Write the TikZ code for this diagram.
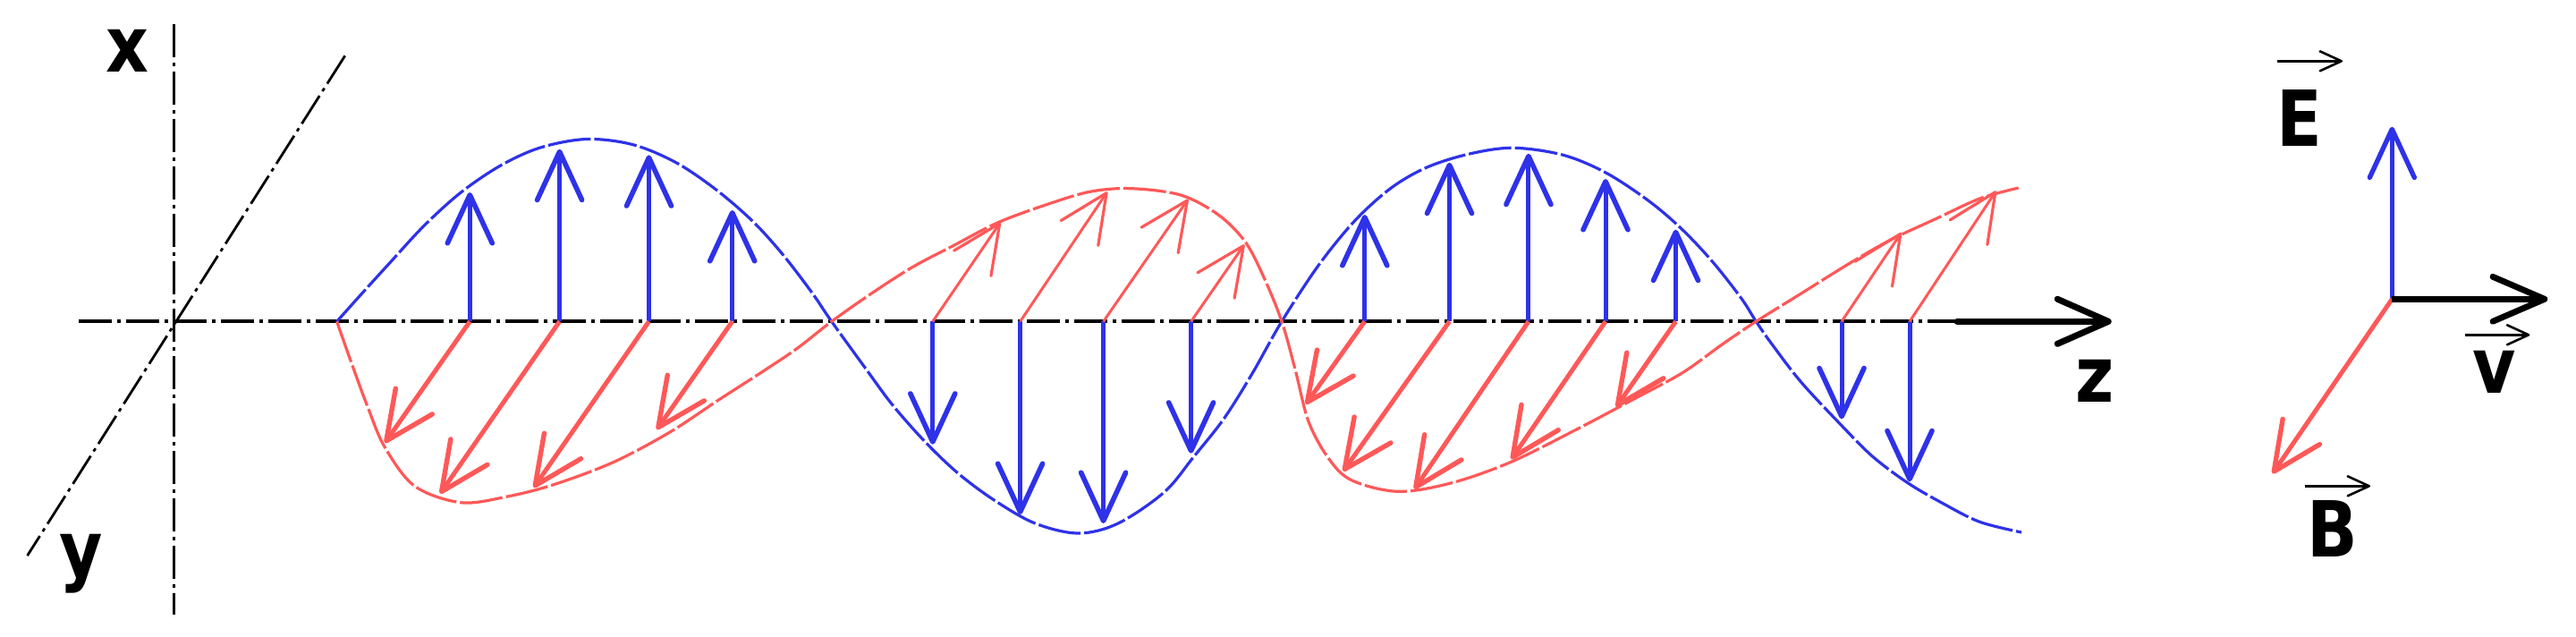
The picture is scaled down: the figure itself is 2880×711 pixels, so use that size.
\documentclass[tikz,border=0pt]{standalone}
\usepackage{fontspec}
\newfontfamily\labfont{DejaVu Sans}
\usetikzlibrary{arrows.meta,calc}
\definecolor{eblue}{RGB}{46,50,232}
\definecolor{bred}{RGB}{255,88,88}
\newcommand\lbltext[1]{\scalebox{0.86}[1]{#1}}
\tikzset{
  lab/.style={inner sep=0pt, outer sep=0pt, font=\labfont\bfseries\fontsize{21.6pt}{21.6pt}\selectfont},
  dashdot/.style={black, line width=0.7pt, dash pattern=on 9.25pt off 1.5pt on 1pt off 1.5pt},
  ecurve/.style={eblue, line width=0.8pt, dash pattern=on 12pt off 1pt},
  bcurve/.style={bred, line width=0.8pt, dash pattern=on 12pt off 1pt},
  bigtip/.style={-{Straight Barb[length=13.5pt,width=12.5pt,line width=#1,round]}},
  earrow/.style={eblue, line width=1.25pt, bigtip=1.4pt},
  barrow/.style={bred, line width=1.25pt, bigtip=1.35pt},
  bthin/.style={bred, line width=0.75pt, bigtip=0.8pt},
  karrow/.style={black, line width=1.7pt, line cap=round, -{Straight Barb[length=14.25pt,width=12.5pt,line width=1.75pt,round]}},
  vecover/.style={black, line width=0.65pt, -{Straight Barb[length=6pt,width=5.5pt,line width=0.65pt,round]}}
}
\begin{document}
\begin{tikzpicture}[x=0.25pt,y=-0.25pt]
\useasboundingbox (0,0) rectangle (2880,711);
% axes
\coordinate (vtop) at (194.3,27);
\coordinate (vbot) at (194.3,687);
\coordinate (htl) at (88.3,359.3);
\coordinate (hte) at (2188,359.3);
\coordinate (ztip) at (2360.7,359.3);
\coordinate (dtop) at (385.7,62.3);
\coordinate (dbot) at (30.6,621);
\draw[dashdot] (vtop) -- (vbot);
\draw[dashdot] (dtop) -- (dbot);
\draw[dashdot, line width=1pt] (htl) -- (hte);
\draw[karrow] (hte) -- (ztip);
% curves
\draw[ecurve] plot[smooth, tension=0.55] coordinates {
(376.6,359.3) (404.4,328.3) (437.7,291.7) (474.7,251.7) (515.4,215) (559.7,185) (604.1,165) (655.9,155.5) (707.7,161.7) (755.8,181.7) (800.2,211.7) (840.9,246.7) (874.2,283.3) (907.5,326.7) (929.7,359.3)
(968.8,413.3) (998.4,453.3) (1035.4,495) (1072.3,530) (1113,560) (1157.4,585) (1205.5,596) (1250,585) (1301.7,550) (1335,510) (1368.3,468) (1400,417.5) (1433,359.3)
(1474,296.7) (1514.7,246.7) (1555.4,210) (1596,186.7) (1644.1,171.7) (1692.2,165.3) (1747.7,173.3) (1795.8,193.3) (1843.9,225) (1880.9,256.7) (1915,293) (1946.7,333.3) (1963.3,359.3)
(1980,383.3) (2013.3,426.7) (2056.7,473.3) (2093.3,510) (2133.3,540) (2173.3,563.3) (2213.3,583.3) (2260,595)};
\draw[bcurve] plot[smooth, tension=0.55] coordinates {
(376.6,359.3) (393.3,406.7) (411.8,456.7) (430.3,500) (463.6,543.3) (515.4,561.7) (567.1,555) (618.9,541.7) (685.5,516.7) (748.4,483.3) (803.9,446.7) (855.7,413.3) (892.7,388.3) (929.7,359.3)
(976.2,326.7) (1020.6,298.3) (1065,275) (1116.7,248.3) (1175.9,226.7) (1220,214) (1264.7,210.7) (1320,218) (1362,240) (1392,270) (1413,310) (1433,359.3)
(1448.1,413.3) (1462.9,471) (1485.1,512) (1511,536.7) (1562.8,549.3) (1621.9,540) (1688.5,516.7) (1762.5,480) (1825.4,446.7) (1880.9,416.7) (1925.3,385) (1963.3,359.3)
(2013.3,328.3) (2066.7,295) (2113.3,268.3) (2163.3,245) (2213.3,222) (2256.7,210)};
% E field arrows
\foreach \i/\z/\t in {1/525.3/215, 2/625.6/166.7, 3/725.5/173.3, 4/818.7/235,
  5/1042.8/496.7, 6/1140.6/575, 7/1233.6/585, 8/1331.6/506.7,
  9/1525.8/240, 10/1620.5/181.7, 11/1708.9/171.7, 12/1795/200, 13/1873.5/256.7,
  14/2059/468.3, 15/2135/538.3} {
  \coordinate (eb\i) at (\z,359.3);
  \coordinate (et\i) at (\z,\t);
  \draw[earrow] (eb\i) -- (et\i);
}
% B field arrows (down-left, thick)
\foreach \i/\z/\tx/\ty in {1/525.3/430.3/495, 2/625.6/492.1/551.7, 3/725.5/596.7/545, 4/818.7/734.3/480,
  9/1525.8/1459.9/451.7, 10/1620.5/1501.7/526.7, 11/1708.9/1581.3/546.7, 12/1795/1689.6/513.3, 13/1873.5/1806.9/455} {
  \coordinate (bb\i) at (\z,359.3);
  \coordinate (bt\i) at (\tx,\ty);
  \draw[barrow] (bb\i) -- (bt\i);
}
% B field arrows (up-right, thin)
\foreach \i/\z/\tx/\ty in {5/1042.8/1118.6/248.3, 6/1140.6/1238/214.3, 7/1233.6/1328.3/222.7, 8/1331.6/1391.2/273.3,
  14/2059/2125.7/260, 15/2135/2231.7/213.3} {
  \coordinate (bb\i) at (\z,359.3);
  \coordinate (bt\i) at (\tx,\ty);
  \draw[bthin] (bb\i) -- (bt\i);
}
% axis labels
\node[lab] (xl) at (142,57) {\lbltext{x}};
\node[lab] (yl) at (91,630.5) {\lbltext{y}};
\node[lab] (zl) at (2342.5,426) {\lbltext{z}};
% legend
\coordinate (lo) at (2674.3,334.3);
\coordinate (le) at (2674.3,141.7);
\coordinate (lv) at (2848.3,334.3);
\coordinate (lb) at (2540.7,529.3);
\draw[eblue, line width=1.1pt, bigtip=1.35pt] (lo) -- (le);
\draw[bred, line width=1.25pt, bigtip=1.35pt] (lo) -- (lb);
\draw[black, line width=1.6pt, -{Straight Barb[length=14.5pt,width=12.5pt,line width=1.7pt,round]}] (lo) -- (lv);
\node[lab] (El) at (2571,131.7) {\lbltext{E}};
\node[lab] (vl) at (2789,416) {\lbltext{v}};
\node[lab] (Bl) at (2607.5,590.5) {\lbltext{B}};
\coordinate (Ea) at (2546,68.3);
\coordinate (Eb) at (2619,68.3);
\coordinate (va) at (2756,374.3);
\coordinate (vb) at (2828.3,374.3);
\coordinate (Ba) at (2577.3,543.3);
\coordinate (Bb) at (2650,543.3);
\draw[vecover] (Ea) -- (Eb);
\draw[vecover] (va) -- (vb);
\draw[vecover] (Ba) -- (Bb);
\end{tikzpicture}
\end{document}
